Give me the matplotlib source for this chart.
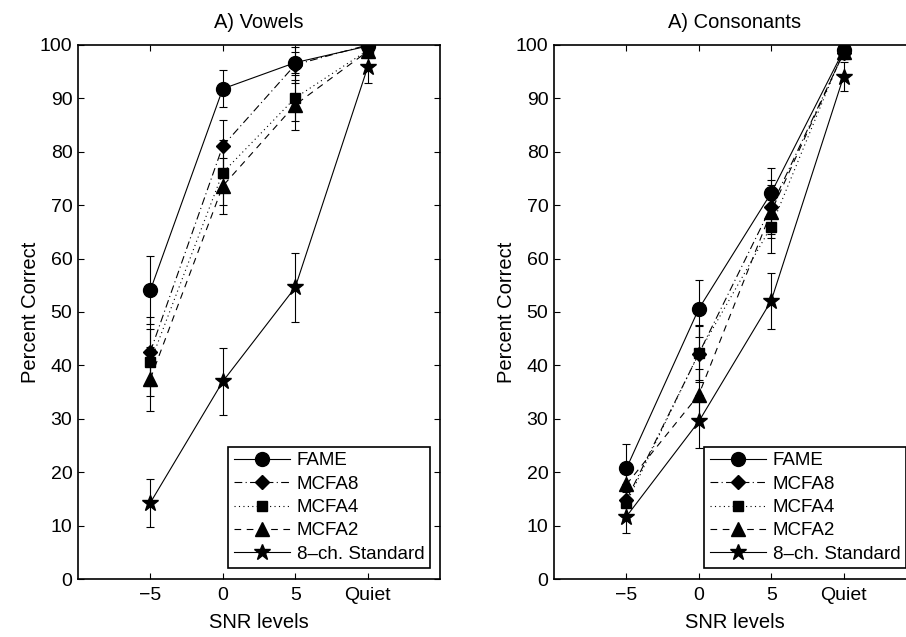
import numpy as np
import matplotlib as mpl
import matplotlib.pyplot as plt

plt.rcParams.update({
    "font.family": ["Liberation Sans", "DejaVu Sans"],
    "font.size": 14,
    "axes.linewidth": 1.2,
    "xtick.direction": "in",
    "ytick.direction": "in",
    "xtick.top": True,
    "ytick.right": True,
    "xtick.major.size": 4,
    "ytick.major.size": 4,
    "xtick.major.width": 0.8,
    "ytick.major.width": 0.8,
    "xtick.major.pad": 6,
    "ytick.major.pad": 4,
})

# SNR conditions (Quiet plotted at position 10)
snr_pos = [-5, 0, 5, 10]
snr_labels = ["\u22125", "0", "5", "Quiet"]
methods = ["FAME", "MCFA8", "MCFA4", "MCFA2", "8\u2013ch. Standard"]

# Vowels: mean percent correct and error half-width
vow_fame = [54.1, 91.8, 96.7, 99.8]
vow_fame_err = [6.4, 3.5, 1.9, 0.5]
vow_mcfa8 = [42.6, 81.1, 96.3, 100.0]
vow_mcfa8_err = [6.5, 4.9, 3.4, 0.3]
vow_mcfa4 = [40.6, 76.1, 90.1, 99.0]
vow_mcfa4_err = [6.3, 6.1, 4.3, 1.0]
vow_mcfa2 = [37.5, 73.6, 88.8, 98.8]
vow_mcfa2_err = [6.0, 5.2, 4.7, 1.2]
vow_std = [14.3, 37.0, 54.6, 95.8]
vow_std_err = [4.5, 6.2, 6.5, 3.0]

# Consonants
con_fame = [20.7, 50.6, 72.3, 99.0]
con_fame_err = [4.5, 5.3, 4.7, 1.0]
con_mcfa8 = [14.8, 42.2, 69.7, 98.5]
con_mcfa8_err = [3.0, 5.3, 5.0, 1.2]
con_mcfa4 = [14.2, 42.3, 66.0, 99.0]
con_mcfa4_err = [3.0, 5.0, 5.0, 1.0]
con_mcfa2 = [17.7, 34.5, 68.8, 98.6]
con_mcfa2_err = [3.0, 4.9, 5.0, 1.0]
con_std = [11.7, 29.5, 52.1, 94.1]
con_std_err = [3.1, 5.0, 5.2, 2.8]

styles = [
    dict(ls="-", marker="o", ms=10),
    dict(ls=(0, (7, 3, 1, 3)), marker="D", ms=7.5),
    dict(ls=(0, (1, 3)), marker="s", ms=7.5),
    dict(ls=(0, (6, 5)), marker="^", ms=9.5),
    dict(ls="-", marker="*", ms=12),
]


def draw_panel(ax, series, errs, title):
    for name, y, e, st in zip(methods, series, errs, styles):
        ax.errorbar(snr_pos, y, yerr=e, fmt="none", ecolor="black",
                    elinewidth=0.8, capsize=3, capthick=0.8, zorder=2)
        ax.plot(snr_pos, y, color="black", lw=0.8, linestyle=st["ls"],
                marker=st["marker"], ms=st["ms"], mfc="black", mec="black",
                label=name, zorder=3)
    ax.set_xlim(-10, 15)
    ax.set_ylim(0, 100)
    ax.set_xticks(snr_pos)
    ax.set_xticklabels(snr_labels)
    ax.set_yticks(np.arange(0, 101, 10))
    ax.set_xlabel("SNR levels", fontsize=14.5, labelpad=6)
    ax.set_ylabel("Percent Correct", fontsize=14.5, labelpad=0)
    ax.set_title(title, fontsize=14.5, pad=12)
    leg = ax.legend(loc="lower right", bbox_to_anchor=(0.972, 0.02),
                    borderaxespad=0, fancybox=False, edgecolor="black",
                    framealpha=1, fontsize=13.5, handlelength=3.0,
                    labelspacing=0.33, borderpad=0.3, handletextpad=0.35)
    leg.get_frame().set_linewidth(1.2)


fig = plt.figure(figsize=(9.06, 6.37), dpi=100)
W, H = 906, 637
ax1 = fig.add_axes([78 / W, (H - 579) / H, 362 / W, 534 / H])
# right panel runs past the figure edge, as in the original crop
ax2 = fig.add_axes([554 / W, (H - 579) / H, 362 / W, 534 / H])

draw_panel(ax1,
           [vow_fame, vow_mcfa8, vow_mcfa4, vow_mcfa2, vow_std],
           [vow_fame_err, vow_mcfa8_err, vow_mcfa4_err, vow_mcfa2_err, vow_std_err],
           "A) Vowels")
draw_panel(ax2,
           [con_fame, con_mcfa8, con_mcfa4, con_mcfa2, con_std],
           [con_fame_err, con_mcfa8_err, con_mcfa4_err, con_mcfa2_err, con_std_err],
           "A) Consonants")

fig.savefig("out.png", dpi=100)
